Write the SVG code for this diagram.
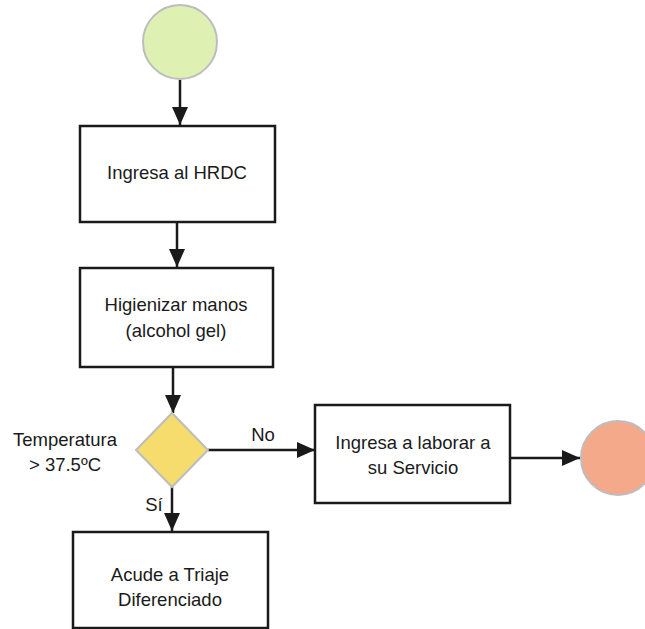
<svg xmlns="http://www.w3.org/2000/svg" width="645" height="629" viewBox="0 0 645 629">
  <style>
    .box { fill: #ffffff; stroke: #1a1a1a; stroke-width: 2.5; }
    .lbl { font-family: "Liberation Sans", Arial, sans-serif; font-size: 18.5px; fill: #1a1a1a; text-anchor: middle; }
    .edge { stroke: #1a1a1a; stroke-width: 2.5; fill: none; marker-end: url(#arrow); }
  </style>
  <defs>
    <marker id="arrow" viewBox="0 0 18 16" refX="18" refY="8" markerWidth="18" markerHeight="16" markerUnits="userSpaceOnUse" orient="auto">
      <path d="M0,0 L18,8 L0,16 z" fill="#1a1a1a"/>
    </marker>
  </defs>
  <rect width="645" height="629" fill="#ffffff"/>

  <g id="connectors">
    <path class="edge" d="M180,80 V125"/>
    <path class="edge" d="M177,222 V267"/>
    <path class="edge" d="M173,367 V413"/>
    <path class="edge" d="M208,450 H315"/>
    <path class="edge" d="M510,458 H580"/>
    <path class="edge" d="M172,487 V531"/>
    <text class="lbl" x="263" y="441">No</text>
    <text class="lbl" x="154" y="511">Sí</text>
  </g>

  <g id="start">
    <circle cx="180" cy="42" r="37" fill="#dff0b3" stroke="#bdbdbd" stroke-width="2"/>
  </g>

  <g id="ingresa-hrdc">
    <rect class="box" x="80" y="126" width="195" height="96"/>
    <text class="lbl" x="177" y="179">Ingresa al HRDC</text>
  </g>

  <g id="higienizar">
    <rect class="box" x="80" y="268" width="193" height="99"/>
    <text class="lbl" x="176" y="311">Higienizar manos</text>
    <text class="lbl" x="176" y="337">(alcohol gel)</text>
  </g>

  <g id="temperatura">
    <polygon points="172,413 208,450 172,487 136,450" fill="#f6dc6c" stroke="#bdbdbd" stroke-width="2"/>
    <text class="lbl" x="65" y="446">Temperatura</text>
    <text class="lbl" x="65" y="471">&gt; 37.5ºC</text>
  </g>

  <g id="ingresa-servicio">
    <rect class="box" x="315" y="405" width="195" height="98"/>
    <text class="lbl" x="413" y="449">Ingresa a laborar a</text>
    <text class="lbl" x="413" y="474">su Servicio</text>
  </g>

  <g id="end">
    <circle cx="618" cy="458" r="37" fill="#f5a98b" stroke="#bdbdbd" stroke-width="2"/>
  </g>

  <g id="triaje">
    <rect class="box" x="73" y="532" width="195" height="96"/>
    <text class="lbl" x="170" y="581">Acude a Triaje</text>
    <text class="lbl" x="170" y="606">Diferenciado</text>
  </g>
</svg>
